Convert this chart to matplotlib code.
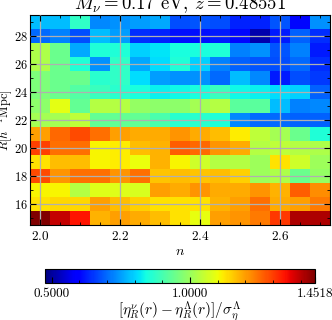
import numpy as np
import matplotlib
matplotlib.use("Agg")
import matplotlib.pyplot as plt
from matplotlib.ticker import MultipleLocator, FixedLocator

plt.rcParams['font.family'] = ['cmr10', 'DejaVu Serif']
plt.rcParams['mathtext.fontset'] = 'cm'
plt.rcParams['axes.formatter.use_mathtext'] = True

# data: columns are n, rows are R (bottom to top)
n_vals = [2.0, 2.05, 2.1, 2.15, 2.2, 2.25, 2.3, 2.35, 2.4, 2.45, 2.5, 2.55, 2.6, 2.65, 2.7]
R_vals = [15, 16, 17, 18, 19, 20, 21, 22, 23, 24, 25, 26, 27, 28, 29]

row_15 = [1.452, 1.393, 1.344, 1.179, 1.198, 1.188, 1.169, 1.130, 1.091, 1.198, 1.208, 1.237, 1.305, 1.413, 1.413]
row_16 = [1.130, 1.140, 1.140, 1.198, 1.169, 1.149, 1.130, 1.130, 1.130, 1.179, 1.198, 1.247, 1.188, 1.198, 1.237]
row_17 = [1.110, 1.110, 1.032, 1.081, 1.081, 1.071, 1.198, 1.188, 1.208, 1.188, 1.188, 1.208, 1.179, 1.266, 1.218]
row_18 = [1.286, 1.208, 1.247, 1.247, 1.208, 1.247, 1.159, 1.169, 1.159, 1.169, 1.149, 1.003, 1.022, 0.944, 0.993]
row_19 = [1.130, 1.169, 1.169, 1.110, 1.120, 1.096, 1.179, 1.110, 1.061, 1.032, 1.032, 1.003, 1.130, 1.061, 1.003]
row_20 = [1.296, 1.247, 1.247, 1.110, 1.120, 1.169, 1.179, 1.266, 1.257, 1.208, 1.188, 1.032, 1.042, 1.032, 1.022]
row_21 = [1.198, 1.257, 1.286, 1.247, 1.198, 1.188, 1.188, 1.208, 1.188, 1.169, 1.120, 1.042, 1.013, 0.944, 0.857]
row_22 = [1.013, 1.013, 1.042, 0.935, 0.935, 0.935, 0.905, 0.866, 0.866, 0.857, 0.730, 0.700, 0.700, 0.691, 0.691]
row_23 = [0.983, 1.086, 0.935, 1.032, 1.032, 0.993, 0.983, 0.983, 1.013, 1.032, 0.925, 0.925, 0.778, 0.720, 0.730]
row_24 = [0.964, 0.944, 0.915, 0.886, 0.866, 0.847, 0.827, 0.837, 0.847, 0.886, 0.837, 0.827, 0.808, 0.798, 0.691]
row_25 = [0.964, 0.944, 0.944, 0.866, 0.876, 0.808, 0.749, 0.739, 0.739, 0.700, 0.778, 0.730, 0.622, 0.671, 0.652]
row_26 = [1.022, 0.944, 0.857, 0.739, 0.876, 0.759, 0.808, 0.857, 0.798, 0.720, 0.691, 0.681, 0.671, 0.700, 0.642]
row_27 = [1.022, 0.944, 0.759, 0.857, 0.857, 0.798, 0.818, 0.847, 0.847, 0.857, 0.720, 0.739, 0.681, 0.720, 0.622]
row_28 = [0.700, 0.720, 0.671, 0.778, 0.749, 0.642, 0.632, 0.613, 0.613, 0.622, 0.603, 0.515, 0.622, 0.691, 0.642]
row_29 = [0.778, 0.778, 0.876, 0.730, 0.739, 0.749, 0.759, 0.671, 0.681, 0.671, 0.632, 0.632, 0.681, 0.603, 0.739]

vmin, vmax = 0.476, 1.4518
cbar_ticks = [0.5, 1.0, 1.4518]

Z = np.array([row_15, row_16, row_17, row_18, row_19, row_20, row_21, row_22,
              row_23, row_24, row_25, row_26, row_27, row_28, row_29])

fig = plt.figure(figsize=(3.32, 3.20), dpi=100)
ax = fig.add_axes([30/332, 1 - 225/320, 300/332, 210/320])

mesh = ax.pcolormesh(n_vals, R_vals, Z, cmap='jet', vmin=vmin, vmax=vmax, shading='nearest')

ax.set_xlim(1.975, 2.725)
ax.set_ylim(14.5, 29.5)
ax.xaxis.set_major_locator(MultipleLocator(0.2))
ax.xaxis.set_minor_locator(MultipleLocator(0.05))
ax.yaxis.set_major_locator(MultipleLocator(2))
ax.yaxis.set_minor_locator(MultipleLocator(1))
ax.tick_params(which='both', direction='in', top=True, right=True, labelsize=9.5)
ax.tick_params(which='major', length=4)
ax.tick_params(which='minor', length=2)
ax.tick_params(axis='y', pad=1.5, labelsize=9)
ax.grid(True, which='major', color='#b0b0b0', lw=0.9)
ax.set_axisbelow(False)

# title sits partly above the top edge, as in the source image
ax.set_title(r'$M_\nu = 0.17$ eV, $z = 0.48551$', fontsize=13.5, pad=4)
ax.set_xlabel(r'$n$', fontsize=10, labelpad=2)
ax.set_ylabel(r'$R[h^{-1}{\rm Mpc}]$', fontsize=9)
ax.yaxis.set_label_coords(-0.052, 0.5)

cax = fig.add_axes([45/332, 1 - 283/320, 270/332, 14/320])
cb = fig.colorbar(mesh, cax=cax, orientation='horizontal')
cb.set_ticks(cbar_ticks)
cb.set_ticklabels(['%.4f' % t for t in cbar_ticks])
cb.ax.xaxis.set_minor_locator(FixedLocator(np.arange(0.6, 1.45, 0.1)))
cb.ax.tick_params(which='both', direction='in', labelsize=9.5)
cb.ax.tick_params(which='major', length=4)
cb.ax.tick_params(which='minor', length=2)
cb.set_label(r'$[\eta^{\nu}_R(r) - \eta^{\Lambda}_R(r)]/\sigma^{\Lambda}_\eta$', fontsize=11, labelpad=0)

fig.savefig('out.png', dpi=100)
